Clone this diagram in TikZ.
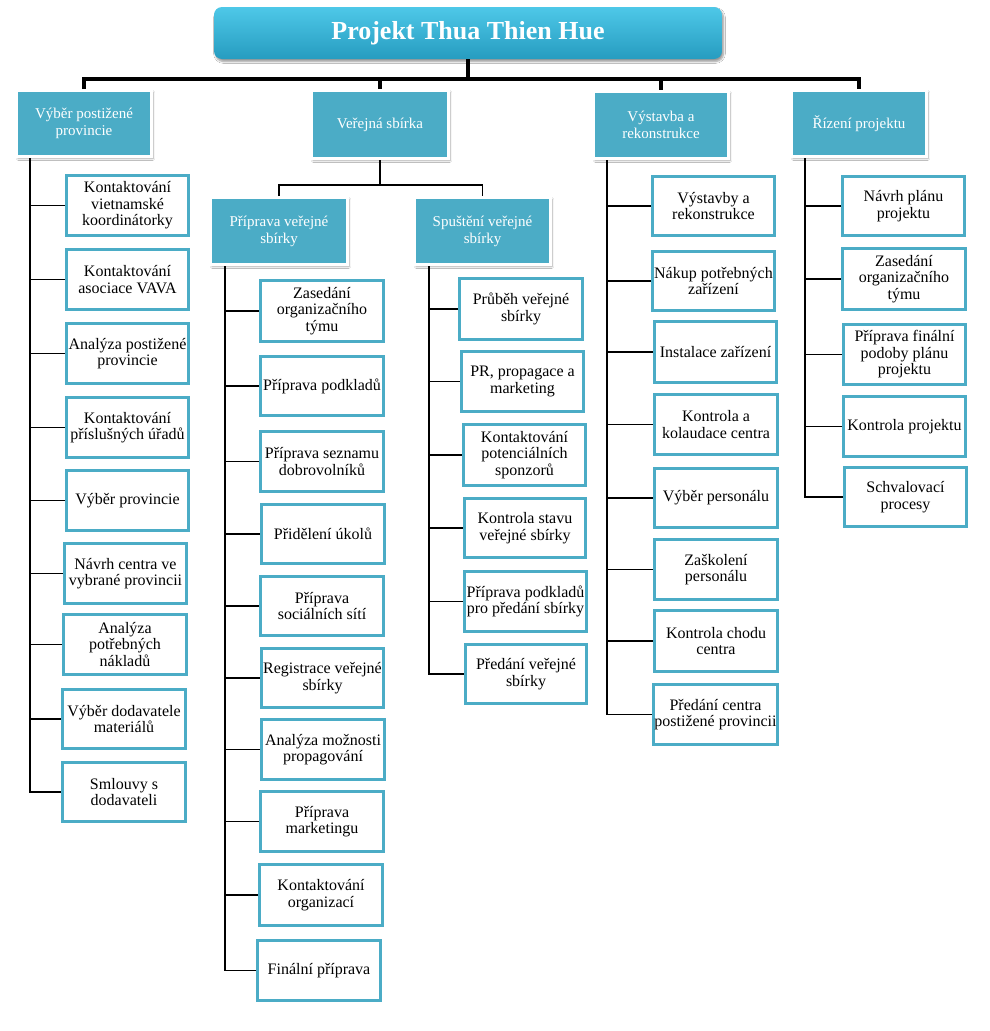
\documentclass[tikz,border=0pt]{standalone}
\usepackage{fontspec}
\setmainfont{Liberation Serif}
\usetikzlibrary{shadows.blur}
\definecolor{teal5}{RGB}{75,172,198}
\definecolor{titletop}{RGB}{78,200,232}
\definecolor{titlebot}{RGB}{38,156,192}
\tikzset{
  leaf/.style={draw=teal5, line width=3pt, fill=white, align=center, inner sep=1pt,
    font=\fontsize{16}{16.5}\selectfont, text=black},
  topbox/.style={draw=white, line width=3pt, fill=teal5, align=center, inner sep=1pt,
    font=\fontsize{15}{17}\selectfont, text=white,
    blur shadow={shadow xshift=1.5pt, shadow yshift=-2pt, shadow opacity=35, shadow blur steps=6}},
  titlebox/.style={rounded corners=8pt, top color=titletop, bottom color=titlebot, draw=none,
    text=white, font=\fontsize{26}{30}\selectfont\bfseries,
    blur shadow={shadow xshift=1.5pt, shadow yshift=-2.5pt, shadow opacity=40, shadow blur steps=6}},
  busline/.style={line width=4pt, black},
  midline/.style={line width=1.8pt, black},
  thinline/.style={line width=1.3pt, black},
}
\newcommand\leafnode[6]{\node[leaf, minimum width={#4-#2-3}, minimum height={#5-#3-3}] (#1) at ({(#2+#4)/2},{(#3+#5)/2}) {#6};}
\newcommand\topnode[6]{\node[topbox, minimum width={#4-#2+3}, minimum height={#5-#3+3}] (#1) at ({(#2+#4)/2},{(#3+#5)/2}) {#6};}
\begin{document}
\begin{tikzpicture}[x=1pt,y=-1pt]
\fill[white] (0,0) rectangle (989,1031);
\useasboundingbox (0,0) rectangle (989,1031);

% title
\node[titlebox, minimum width=508, minimum height=52] (title) at (468,33) {Projekt Thua Thien Hue};

% top-level boxes
\topnode{b1}{18}{92}{150}{155}{Výběr postižené\\provincie}
\topnode{b2}{313}{92}{447}{157}{Veřejná sbírka}
\topnode{b3}{595}{93}{727}{157}{Výstavba a\\rekonstrukce}
\topnode{b4}{793}{92}{925}{155}{Řízení projektu}

% sub boxes
\topnode{s1}{212}{199}{346}{263}{Příprava veřejné\\sbírky}
\topnode{s2}{416}{199}{549}{263}{Spuštění veřejné\\sbírky}

% column 1
\leafnode{l1a}{65}{174}{190}{237}{Kontaktování\\vietnamské\\koordinátorky}
\leafnode{l1b}{65}{248}{190}{311}{Kontaktování\\asociace VAVA}
\leafnode{l1c}{65}{322}{190}{385}{Analýza postižené\\provincie}
\leafnode{l1d}{65}{396}{190}{459}{Kontaktování\\příslušných úřadů}
\leafnode{l1e}{65}{469}{190}{532}{Výběr provincie}
\leafnode{l1f}{63}{542}{188}{605}{Návrh centra ve\\vybrané provincii}
\leafnode{l1g}{62}{613}{188}{676}{Analýza\\potřebných\\nákladů}
\leafnode{l1h}{61}{688}{187}{750}{Výběr dodavatele\\materiálů}
\leafnode{l1i}{61}{761}{187}{823}{Smlouvy s\\dodavateli}

% column 2a
\leafnode{l2a}{259}{279}{385}{343}{Zasedání\\organizačního\\týmu}
\leafnode{l2b}{259}{355}{385}{417}{Příprava podkladů}
\leafnode{l2c}{259}{430}{385}{493}{Příprava seznamu\\dobrovolníků}
\leafnode{l2d}{260}{503}{386}{565}{Přidělení úkolů}
\leafnode{l2e}{259}{575}{385}{637}{Příprava\\sociálních sítí}
\leafnode{l2f}{260}{647}{385}{709}{Registrace veřejné\\sbírky}
\leafnode{l2g}{260}{718}{386}{781}{Analýza možnosti\\propagování}
\leafnode{l2h}{259}{790}{385}{853}{Příprava\\marketingu}
\leafnode{l2i}{258}{863}{384}{927}{Kontaktování\\organizací}
\leafnode{l2j}{256}{939}{382}{1002}{Finální příprava}

% column 2b
\leafnode{l3a}{458}{277}{584}{341}{Průběh veřejné\\sbírky}
\leafnode{l3b}{460}{350}{585}{413}{PR, propagace a\\marketing}
\leafnode{l3c}{462}{423}{587}{487}{Kontaktování\\potenciálních\\sponzorů}
\leafnode{l3d}{463}{497}{587}{559}{Kontrola stavu\\veřejné sbírky}
\leafnode{l3e}{463}{570}{588}{633}{Příprava podkladů\\pro předání sbírky}
\leafnode{l3f}{464}{643}{588}{705}{Předání veřejné\\sbírky}

% column 3
\leafnode{l4a}{651}{175}{776}{237}{Výstavby a\\rekonstrukce}
\leafnode{l4b}{651}{250}{776}{312}{Nákup potřebných\\zařízení}
\leafnode{l4c}{653}{320}{778}{384}{Instalace zařízení}
\leafnode{l4d}{653}{393}{779}{456}{Kontrola a\\kolaudace centra}
\leafnode{l4e}{653}{467}{779}{529}{Výběr personálu}
\leafnode{l4f}{653}{538}{779}{601}{Zaškolení\\personálu}
\leafnode{l4g}{653}{609}{779}{673}{Kontrola chodu\\centra}
\leafnode{l4h}{653}{683}{778}{746}{Předání centra\\postižené provincii}

% column 4
\leafnode{l5a}{841}{175}{966}{237}{Návrh plánu\\projektu}
\leafnode{l5b}{841}{247}{967}{311}{Zasedání\\organizačního\\týmu}
\leafnode{l5c}{842}{323}{967}{386}{Příprava finální\\podoby plánu\\projektu}
\leafnode{l5d}{842}{395}{967}{458}{Kontrola projektu}
\leafnode{l5e}{843}{466}{968}{528}{Schvalovací\\procesy}

% connectors: top bus
\coordinate (bus) at (0,79);
\draw[busline] (title.south) -- (title.south |- bus);
\draw[busline] (b1.north) -- (b1.north |- bus) -- (b4.north |- bus) -- (b4.north);
\draw[busline] (b2.north |- bus) -- (b2.north);
\draw[busline] (b3.north |- bus) -- (b3.north);

% sub bus
\coordinate (sbus) at (0,185);
\draw[midline] (b2.south) -- (b2.south |- sbus);
\draw[midline] (s1.north) -- (s1.north |- sbus) -- (s2.north |- sbus) -- (s2.north);

% column spines
\coordinate (c1) at (30,0);
\coordinate (c2) at (225,0);
\coordinate (c3) at (429,0);
\coordinate (c4) at (607,0);
\coordinate (c5) at (805,0);
\draw[thinline] (b1.south -| c1) |- (l1i.west);
\foreach \n in {l1a,l1b,l1c,l1d,l1e,l1f,l1g,l1h} \draw[thinline] (\n.west -| c1) -- (\n.west);
\draw[thinline] (s1.south -| c2) |- (l2j.west);
\foreach \n in {l2a,l2b,l2c,l2d,l2e,l2f,l2g,l2h,l2i} \draw[thinline] (\n.west -| c2) -- (\n.west);
\draw[thinline] (s2.south -| c3) |- (l3f.west);
\foreach \n in {l3a,l3b,l3c,l3d,l3e} \draw[thinline] (\n.west -| c3) -- (\n.west);
\draw[thinline] (b3.south -| c4) |- (l4h.west);
\foreach \n in {l4a,l4b,l4c,l4d,l4e,l4f,l4g} \draw[thinline] (\n.west -| c4) -- (\n.west);
\draw[thinline] (b4.south -| c5) |- (l5e.west);
\foreach \n in {l5a,l5b,l5c,l5d} \draw[thinline] (\n.west -| c5) -- (\n.west);
\end{tikzpicture}
\end{document}
